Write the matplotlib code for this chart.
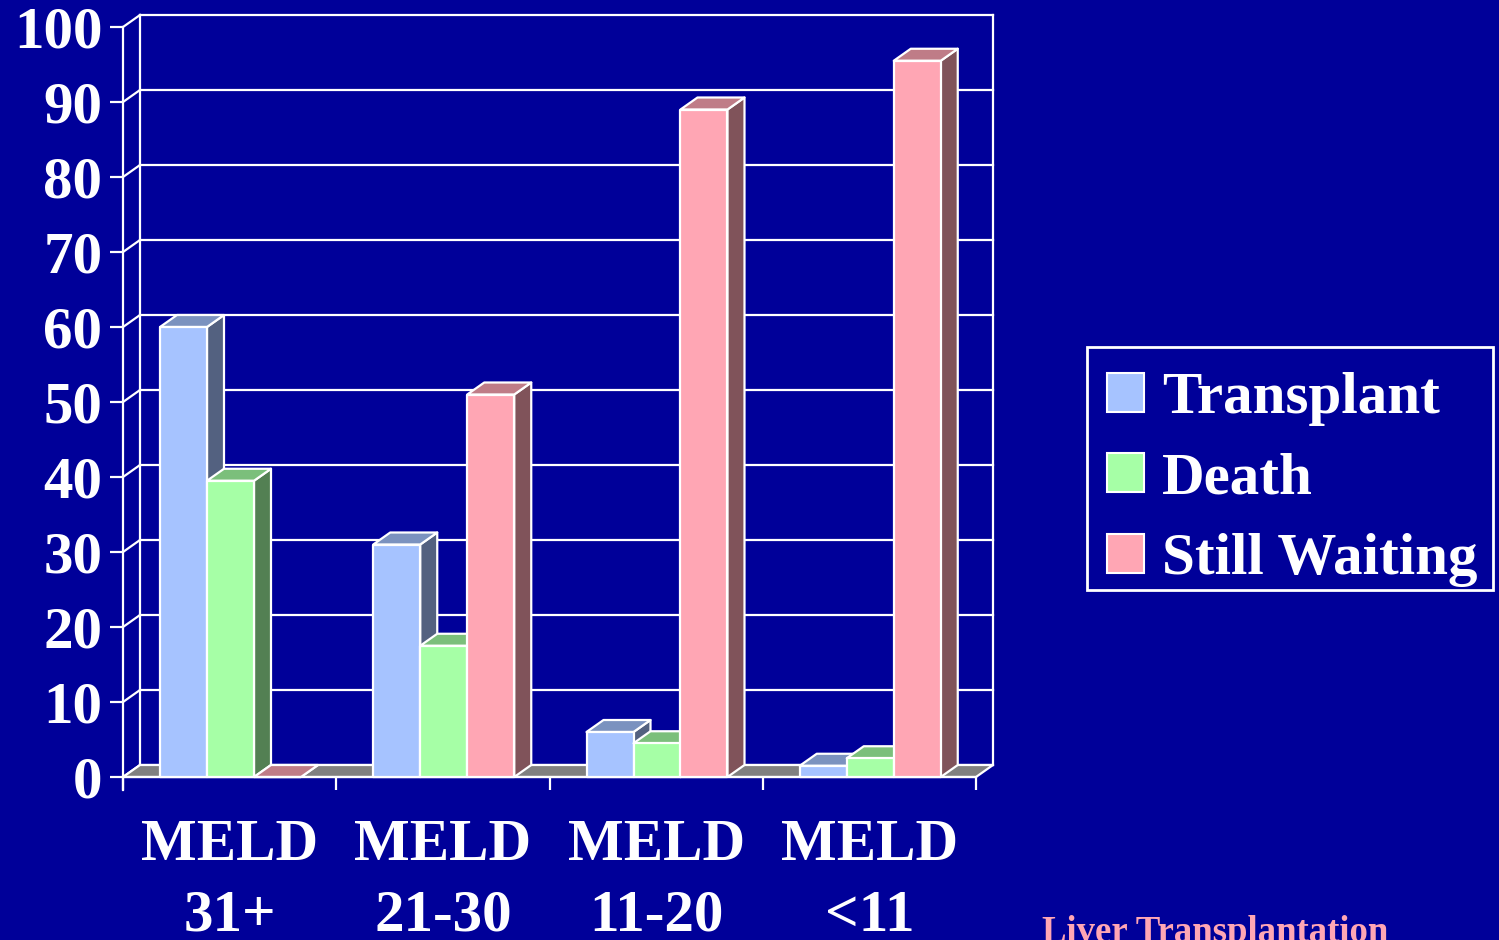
import matplotlib
matplotlib.use('Agg')
import matplotlib.pyplot as plt
from matplotlib.patches import Polygon, Patch, Rectangle

# ---------------- data ----------------
categories = ['MELD\n31+', 'MELD\n21-30', 'MELD\n11-20', 'MELD\n<11']
series = ['Transplant', 'Death', 'Still Waiting']
transplant = [60, 31, 6, 1.5]
death = [39.5, 17.5, 4.5, 2.5]
still_waiting = [0, 51, 89, 95.5]
yticks = list(range(0, 101, 10))
source_note = 'Liver Transplantation'

# ---------------- style ----------------
BG = '#000099'
FRONT = ['#A6C3FF', '#A6FFA6', '#FFA6B4']
TOP = ['#7B92BF', '#7BBF7B', '#BF7C87']
SIDE = ['#536180', '#538053', '#80535A']
FLOOR = '#808080'
FS = 42.5
plt.rcParams['font.family'] = ['Liberation Serif', 'DejaVu Serif']
plt.rcParams['font.weight'] = 'bold'

W, H, DPI = 1499, 940, 100
fig = plt.figure(figsize=(W / DPI, H / DPI), dpi=DPI, facecolor=BG)
L, R, T, B = 100, 1000, 10, 790
ax = fig.add_axes([L / W, 1 - B / H, (R - L) / W, (B - T) / H])
ax.patch.set_alpha(0)

x0px, x4px, y0px, y100px = 123, 976, 777, 27
xs = (x4px - x0px) / 4.0
ys = (y0px - y100px) / 100.0
ax.set_xlim(-(x0px - L) / xs, 4 + (R - x4px) / xs)
ax.set_ylim(-(B - y0px) / ys, 100 + (y100px - T) / ys)
DX = 17 / xs
DY = 12 / ys
BAR_OFF = 37 / xs
BAR_W = 47 / xs
n = len(categories)
LW = 1.6

# walls / gridlines
for v in yticks:
    ax.plot([DX, n + DX], [v + DY, v + DY], color='white', lw=LW, zorder=1)
    ax.plot([0, DX], [v, v + DY], color='white', lw=LW, zorder=1)
ax.plot([DX, DX], [DY, 100 + DY], color='white', lw=LW, zorder=1)
ax.plot([n + DX, n + DX], [DY, 100 + DY], color='white', lw=LW, zorder=1)
# floor
ax.add_patch(Polygon([(0, 0), (n, 0), (n + DX, DY), (DX, DY)], closed=True,
                     fc=FLOOR, ec='white', lw=LW, zorder=1.5))

# bars
values = [transplant, death, still_waiting]
z = 3
for ci in range(n):
    for si in range(len(series)):
        v = values[si][ci]
        xa = ci + BAR_OFF + si * BAR_W
        xb = xa + BAR_W
        kw = dict(closed=True, ec='white', lw=LW, joinstyle='round')
        ax.add_patch(Polygon([(xb, 0), (xb + DX, DY), (xb + DX, v + DY), (xb, v)],
                             fc=SIDE[si], zorder=z, **kw))
        ax.add_patch(Polygon([(xa, v), (xb, v), (xb + DX, v + DY), (xa + DX, v + DY)],
                             fc=TOP[si], zorder=z, **kw))
        ax.add_patch(Polygon([(xa, 0), (xb, 0), (xb, v), (xa, v)],
                             fc=FRONT[si], zorder=z, **kw))
        z += 1

# spines / ticks
for s in ['top', 'right']:
    ax.spines[s].set_visible(False)
ax.spines['left'].set_position(('data', 0))
ax.spines['left'].set_bounds(-(B - y0px) / ys, 100)
ax.spines['bottom'].set_position(('data', 0))
ax.spines['bottom'].set_bounds(0, n)
for s in ['left', 'bottom']:
    ax.spines[s].set_color('white')
    ax.spines[s].set_linewidth(LW)
    ax.spines[s].set_zorder(2)

ax.set_yticks(yticks)
ax.set_yticklabels([str(t) for t in yticks])
ax.tick_params(axis='y', direction='out', length=9.4, width=LW, color='white',
               pad=5.5, labelsize=FS, labelcolor='white')
ax.set_xticks([i + 0.5 for i in range(n)])
ax.set_xticklabels(categories)
ax.set_xticks(list(range(n + 1)), minor=True)
ax.tick_params(axis='x', which='major', length=0, pad=30, labelsize=FS,
               labelcolor='white')
ax.tick_params(axis='x', which='minor', direction='out', length=9.4, width=LW,
               color='white')
for lbl in ax.get_xticklabels():
    lbl.set_linespacing(1.42)

# legend (frame drawn separately)
fig.patches.append(Rectangle((1087 / W, 1 - 590 / H), (1493 - 1087) / W, (590 - 347) / H,
                             transform=fig.transFigure, fc=BG, ec='white', lw=2,
                             zorder=0.5))
handles = [Patch(facecolor=FRONT[i], edgecolor='white', lw=1.5) for i in range(len(series))]
leg = fig.legend(handles, series, loc='upper left',
                 bbox_to_anchor=(1107 / W, 1 - 372 / H), bbox_transform=fig.transFigure,
                 borderaxespad=0, fontsize=FS, labelcolor='white', frameon=False,
                 handlelength=0.63, handleheight=0.63,
                 handletextpad=0.3, borderpad=0, labelspacing=0.45)

fig.text(1042 / W, 1 - 942 / H, source_note, color='#FFA6B4', fontsize=26.5,
         fontweight='bold', ha='left', va='baseline')

fig.savefig('out.png', dpi=DPI, facecolor=BG)
